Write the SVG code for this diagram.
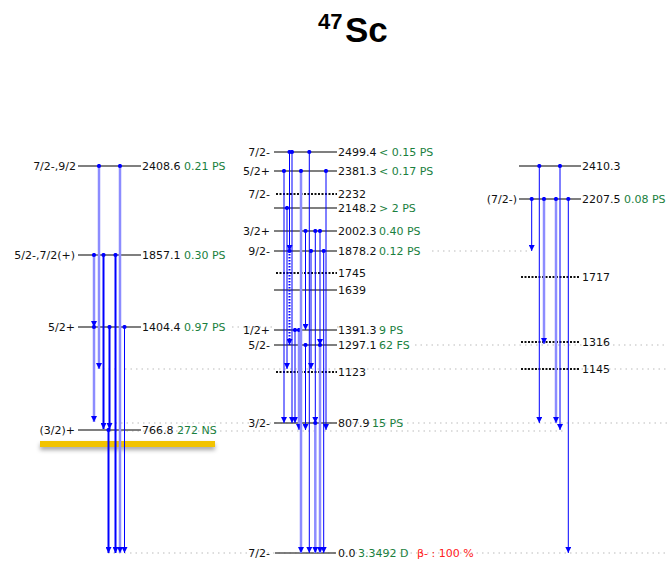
<svg xmlns="http://www.w3.org/2000/svg" width="667" height="568" viewBox="0 0 667 568">
<style>
text{font-family:"DejaVu Sans","Noto Sans",sans-serif;font-size:11px;fill:#111}
.sp{text-anchor:end}
.lt{fill:#1a7f3e}
.red{fill:#ff2020}
.lvl{stroke:#555;stroke-width:1.5}
.lvd{stroke:#111;stroke-width:2;stroke-dasharray:2 1.5}
.gd{stroke:#bbb;stroke-width:1;stroke-dasharray:1.5 4}
.n{stroke:#0000ff;stroke-width:1;marker-start:url(#dot);marker-end:url(#arr)}
.k{stroke:#0000ff;stroke-width:2;marker-start:url(#dot);marker-end:url(#arr)}
.L{stroke:#8c8cff;stroke-width:2.5;marker-start:url(#dot);marker-end:url(#arr)}
.D{stroke:#0000ff;stroke-width:2;stroke-dasharray:1.5 1.5;marker-start:url(#dot);marker-end:url(#arr)}
</style>
<defs>
<marker id="arr" viewBox="0 -3 6 6" refX="6" refY="0" markerWidth="6" markerHeight="6" markerUnits="userSpaceOnUse" orient="auto"><path d="M0,-3 L6,0 L0,3 z" fill="#0000ff"/></marker>
<marker id="dot" viewBox="-3 -3 6 6" refX="0" refY="0" markerWidth="5" markerHeight="5" markerUnits="userSpaceOnUse" orient="auto"><circle r="2.5" fill="#0000ff"/></marker>
<filter id="sh" x="-10%" y="-100%" width="120%" height="400%"><feDropShadow dx="0" dy="3" stdDeviation="2" flood-color="#000" flood-opacity="0.35"/></filter>
</defs>

<g id="title"><text x="318" y="29" style="font-family:'Liberation Sans',Arial,sans-serif;font-weight:bold;font-size:22px;fill:#000">47</text><text x="345" y="42" style="font-family:'Liberation Sans',Arial,sans-serif;font-weight:bold;font-size:35px;fill:#000">Sc</text></g>

<g id="guides">
<line class="gd" x1="432" y1="251" x2="530" y2="251"/>
<line class="gd" x1="232" y1="327" x2="274" y2="327"/>
<line class="gd" x1="337" y1="327" x2="342" y2="327"/>
<line class="gd" x1="415" y1="345" x2="667" y2="345"/>
<line class="gd" x1="103" y1="369" x2="667" y2="369"/>
<line class="gd" x1="110" y1="423" x2="667" y2="423"/>
<line class="gd" x1="110" y1="431" x2="565" y2="431"/>
<line class="gd" x1="108" y1="553" x2="667" y2="553"/>
</g>

<g id="bar"><rect x="40" y="441" width="175" height="6" fill="#f2c300" filter="url(#sh)"/></g>

<g id="lvl-L2408"><line class="lvl" x1="78" y1="166" x2="141" y2="166"/><text class="sp" x="76" y="170">7/2-,9/2</text><text x="142" y="170">2408.6</text><text class="lt" x="184" y="170">0.21 PS</text></g>
<g id="lvl-L1857"><line class="lvl" x1="78" y1="255" x2="141" y2="255"/><text class="sp" x="75" y="259">5/2-,7/2(+)</text><text x="142" y="259">1857.1</text><text class="lt" x="184" y="259">0.30 PS</text></g>
<g id="lvl-L1404"><line class="lvl" x1="78" y1="327" x2="141" y2="327"/><text class="sp" x="75" y="331">5/2+</text><text x="142" y="331">1404.4</text><text class="lt" x="184" y="331">0.97 PS</text></g>
<g id="lvl-L766"><line class="lvl" x1="78" y1="430" x2="141" y2="430"/><text class="sp" x="75" y="434">(3/2)+</text><text x="142" y="434">766.8</text><text class="lt" x="177" y="434">272 NS</text></g>

<g id="lvl-M2499"><line class="lvl" x1="274" y1="152" x2="337" y2="152"/><text class="sp" x="270" y="156">7/2-</text><text x="338" y="156">2499.4</text><text class="lt" x="379" y="156">&lt; 0.15 PS</text></g>
<g id="lvl-M2381"><line class="lvl" x1="274" y1="171" x2="337" y2="171"/><text class="sp" x="270" y="175">5/2+</text><text x="338" y="175">2381.3</text><text class="lt" x="379" y="175">&lt; 0.17 PS</text></g>
<g id="lvl-M2232"><line class="lvd" x1="276" y1="194" x2="337" y2="194"/><text class="sp" x="270" y="198">7/2-</text><text x="338" y="198">2232</text></g>
<g id="lvl-M2148"><line class="lvl" x1="274" y1="208" x2="337" y2="208"/><text x="338" y="212">2148.2</text><text class="lt" x="379" y="212">&gt; 2 PS</text></g>
<g id="lvl-M2002"><line class="lvl" x1="274" y1="231" x2="337" y2="231"/><text class="sp" x="270" y="235">3/2+</text><text x="338" y="235">2002.3</text><text class="lt" x="379" y="235">0.40 PS</text></g>
<g id="lvl-M1878"><line class="lvl" x1="274" y1="251" x2="337" y2="251"/><text class="sp" x="270" y="255">9/2-</text><text x="338" y="255">1878.2</text><text class="lt" x="379" y="255">0.12 PS</text></g>
<g id="lvl-M1745"><line class="lvd" x1="276" y1="273" x2="337" y2="273"/><text x="338" y="277">1745</text></g>
<g id="lvl-M1639"><line class="lvl" x1="274" y1="290" x2="337" y2="290"/><text x="338" y="294">1639</text></g>
<g id="lvl-M1391"><line class="lvl" x1="274" y1="330" x2="337" y2="330"/><text class="sp" x="270" y="334">1/2+</text><text x="338" y="334">1391.3</text><text class="lt" x="379" y="334">9 PS</text></g>
<g id="lvl-M1297"><line class="lvl" x1="274" y1="345" x2="337" y2="345"/><text class="sp" x="270" y="349">5/2-</text><text x="338" y="349">1297.1</text><text class="lt" x="379" y="349">62 FS</text></g>
<g id="lvl-M1123"><line class="lvd" x1="276" y1="372" x2="337" y2="372"/><text x="338" y="376">1123</text></g>
<g id="lvl-M807"><line class="lvl" x1="274" y1="423" x2="337" y2="423"/><text class="sp" x="270" y="427">3/2-</text><text x="338" y="427">807.9</text><text class="lt" x="372" y="427">15 PS</text></g>
<g id="lvl-M0"><line class="lvl" x1="275" y1="553" x2="336" y2="553"/><text class="sp" x="270" y="557">7/2-</text><text x="338" y="557">0.0</text><text class="lt" x="358" y="557">3.3492 D</text><text class="red" x="417" y="557">β- : 100 %</text></g>

<g id="lvl-R2410"><line class="lvl" x1="519" y1="166" x2="581" y2="166"/><text x="582" y="170">2410.3</text></g>
<g id="lvl-R2207"><line class="lvl" x1="519" y1="199" x2="581" y2="199"/><text class="sp" x="517" y="203">(7/2-)</text><text x="582" y="203">2207.5</text><text class="lt" x="624" y="203">0.08 PS</text></g>
<g id="lvl-R1717"><line class="lvd" x1="521" y1="277" x2="580" y2="277"/><text x="582" y="281">1717</text></g>
<g id="lvl-R1316"><line class="lvd" x1="521" y1="342" x2="580" y2="342"/><text x="582" y="346">1316</text></g>
<g id="lvl-R1145"><line class="lvd" x1="521" y1="369" x2="580" y2="369"/><text x="582" y="373">1145</text></g>

<g id="connectors">
<line class="L" x1="94" y1="255" x2="94" y2="327"/>
<line class="L" x1="94" y1="327" x2="94" y2="422"/>
<line class="L" x1="99" y1="166" x2="99" y2="369"/>
<line class="k" x1="103.5" y1="255" x2="103.5" y2="429"/>
<line class="k" x1="109.5" y1="327" x2="109.5" y2="429"/>
<line class="k" x1="108.5" y1="430" x2="108.5" y2="553"/>
<line class="k" x1="115.5" y1="255" x2="115.5" y2="553"/>
<line class="L" x1="120" y1="166" x2="120" y2="553"/>
<line class="n" x1="124.5" y1="327" x2="124.5" y2="553"/>

<line class="n" x1="284" y1="171" x2="284" y2="423"/>
<line class="n" x1="287" y1="208" x2="287" y2="369"/>
<line class="n" x1="289.5" y1="152" x2="289.5" y2="251"/>
<line class="D" x1="289.5" y1="251" x2="289.5" y2="345"/>
<line class="n" x1="292" y1="152" x2="292" y2="423"/>
<line class="n" x1="295" y1="330" x2="295" y2="423"/>
<line class="L" x1="299" y1="330" x2="299" y2="430"/>
<line class="L" x1="301" y1="171" x2="301" y2="553"/>
<line class="n" x1="305.5" y1="231" x2="305.5" y2="330"/>
<line class="n" x1="305.5" y1="345" x2="305.5" y2="430"/>
<line class="n" x1="309.3" y1="152" x2="309.3" y2="553"/>
<line class="n" x1="311" y1="251" x2="311" y2="369"/>
<line class="n" x1="315.3" y1="231" x2="315.3" y2="423"/>
<line class="L" x1="315.3" y1="423" x2="315.3" y2="553"/>
<line class="n" x1="320" y1="231" x2="320" y2="345"/>
<line class="L" x1="320" y1="345" x2="320" y2="553"/>
<line class="n" x1="323.7" y1="251" x2="323.7" y2="553"/>
<line class="n" x1="326" y1="171" x2="326" y2="430"/>

<line class="n" x1="531.7" y1="199" x2="531.7" y2="251"/>
<line class="n" x1="539.3" y1="166" x2="539.3" y2="423"/>
<line class="L" x1="544" y1="199" x2="544" y2="344"/>
<line class="L" x1="556" y1="199" x2="556" y2="423"/>
<line class="n" x1="560" y1="166" x2="560" y2="430"/>
<line class="n" x1="568.3" y1="199" x2="568.3" y2="553"/>
</g>
</svg>
